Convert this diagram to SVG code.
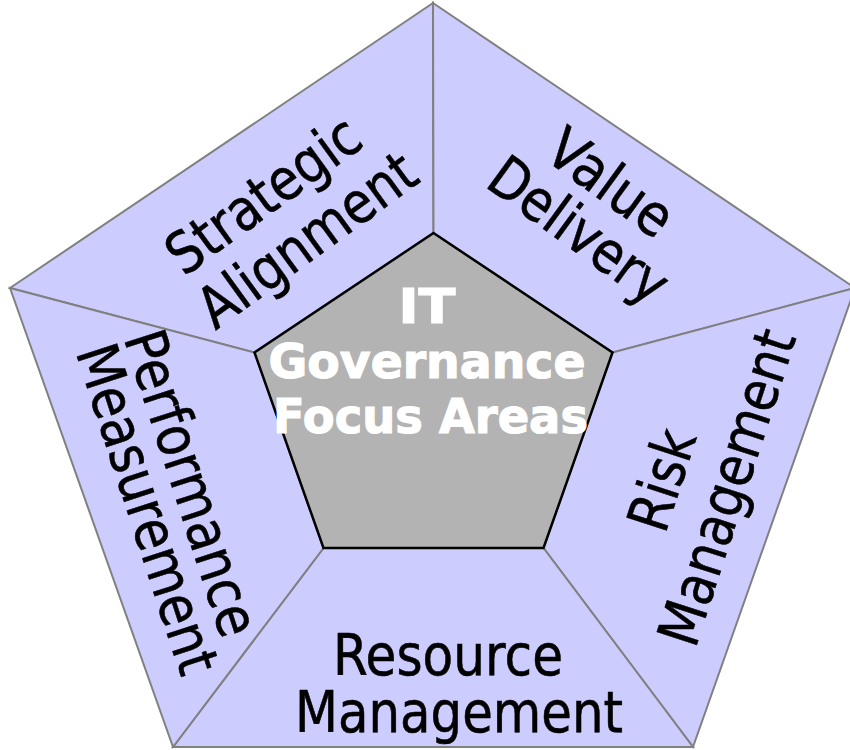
<svg xmlns="http://www.w3.org/2000/svg" width="850" height="750" viewBox="0 0 850 750">
<style>
.sec{fill:#CCCCFF;stroke:#808080;stroke-width:2;stroke-linejoin:miter}
.core{fill:#B3B3B3;stroke:#000000;stroke-width:2.5;stroke-linejoin:miter}
.lbl{font-family:"DejaVu Sans","Liberation Sans",sans-serif;font-size:57.6px;fill:#000000;stroke:#000000;stroke-width:0.6;text-anchor:middle}
.ctr{font-family:"DejaVu Sans","Liberation Sans",sans-serif;font-weight:bold;font-size:48px;fill:#FFFFFF;stroke:#FFFFFF;stroke-width:1.2;text-anchor:middle}
</style>
<rect width="850" height="750" fill="#FFFFFF"/>
<g id="strategic-alignment">
<polygon class="sec" points="433,3 10,288 254.5,352.5 433.5,233"/>
<g transform="translate(275,211) rotate(-36)">
<text class="lbl" x="0" y="0" textLength="225" lengthAdjust="spacingAndGlyphs">Strategic</text>
<text class="lbl" x="9" y="62" textLength="255" lengthAdjust="spacingAndGlyphs">Alignment</text>
</g>
</g>
<g id="value-delivery">
<polygon class="sec" points="433,3 855,288 612.5,352.5 433.5,233"/>
<g transform="translate(599,199) rotate(36)">
<text class="lbl" x="0" y="0" textLength="141" lengthAdjust="spacingAndGlyphs">Value</text>
<text class="lbl" x="2" y="57" textLength="207" lengthAdjust="spacingAndGlyphs">Delivery</text>
</g>
</g>
<g id="risk-management">
<polygon class="sec" points="855,288 693,747 543.5,548 612.5,352.5"/>
<g transform="translate(681,486) rotate(-72)">
<text class="lbl" x="0" y="0" textLength="103" lengthAdjust="spacingAndGlyphs">Risk</text>
<text class="lbl" x="13" y="64" textLength="328" lengthAdjust="spacingAndGlyphs">Management</text>
</g>
</g>
<g id="resource-management">
<polygon class="sec" points="693,747 173,747 323.5,548 543.5,548"/>
<text class="lbl" x="448" y="675" textLength="230" lengthAdjust="spacingAndGlyphs">Resource</text>
<text class="lbl" x="459" y="732" textLength="328" lengthAdjust="spacingAndGlyphs">Management</text>
</g>
<g id="performance-measurement">
<polygon class="sec" points="173,747 10,288 254.5,352.5 323.5,548"/>
<g transform="translate(172.6,489.2) rotate(72)">
<text class="lbl" x="0" y="0" textLength="318" lengthAdjust="spacingAndGlyphs">Performance</text>
<text class="lbl" x="11" y="50" textLength="343" lengthAdjust="spacingAndGlyphs">Measurement</text>
</g>
</g>
<g id="it-governance">
<polygon class="core" points="433.5,233 612.5,352.5 543.5,548 323.5,548 254.5,352.5"/>
<text class="ctr" x="427" y="323" textLength="57" lengthAdjust="spacingAndGlyphs">IT</text>
<text class="ctr" x="427" y="378" textLength="317" lengthAdjust="spacingAndGlyphs">Governance</text>
<text class="ctr" x="430.5" y="433" textLength="315" lengthAdjust="spacingAndGlyphs">Focus Areas</text>
</g>
<g id="connectors"></g>
</svg>
